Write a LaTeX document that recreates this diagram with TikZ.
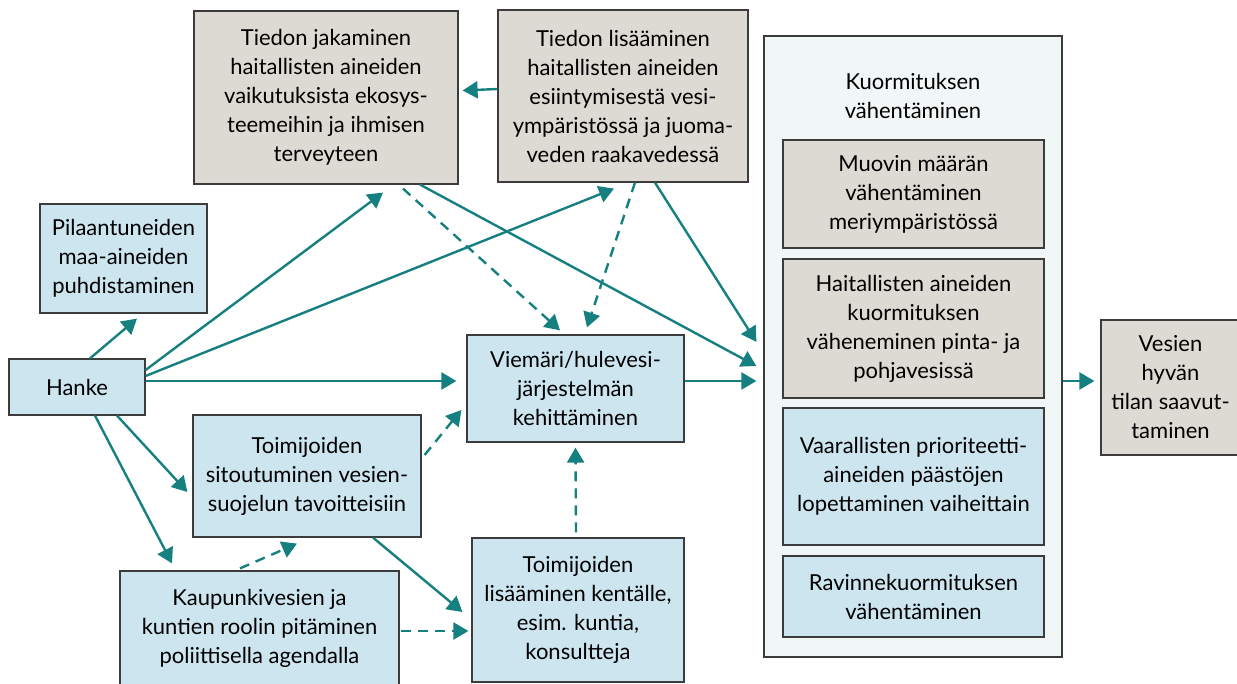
\documentclass[tikz,border=0pt]{standalone}
\usepackage{fontspec}
\setmainfont{Lato}
\usepackage{xcolor}
\usetikzlibrary{arrows.meta, positioning}
\definecolor{flowc}{RGB}{22,128,128}
\definecolor{grayfill}{RGB}{221,217,211}
\definecolor{bluefill}{RGB}{205,229,238}
\definecolor{outerfill}{RGB}{241,246,247}
\definecolor{boxline}{RGB}{60,60,60}
\tikzset{
  box/.style={draw=boxline, line width=0.6pt, align=center, inner sep=2pt, font=\fontsize{11}{14.5}\selectfont},
  graybox/.style={box, fill=grayfill},
  bluebox/.style={box, fill=bluefill},
  flow/.style={draw=flowc, line width=1.2pt, -{Triangle[length=7.5pt,width=8.5pt]}},
  dflow/.style={flow, dash pattern=on 5pt off 3.5pt},
}

\begin{document}
\begin{tikzpicture}[x=0.5pt, y=-0.5pt]
            \useasboundingbox (0,0) rectangle (1237,684);
            % outer group on the right
            \node (load_group) [box, fill=outerfill, minimum width=149pt, minimum height=310.5pt] at (913,346.5) {};
            \node (load_title) [font=\fontsize{11}{14.5}\selectfont, align=center] at (913,96) {Kuormituksen\\ vähentäminen};
            \node (plastic) [graybox, minimum width=130.5pt, minimum height=54pt] at (913.5,194) {Muovin määrän\\ vähentäminen\\ meriympäristössä};
            \node (hazard_load) [graybox, minimum width=130.5pt, minimum height=69.5pt] at (913.5,328.5) {Haitallisten aineiden\\ kuormituksen\\ väheneminen pinta- ja\\ pohjavesissä};
            \node (priority) [bluebox, minimum width=130.5pt, minimum height=68.5pt] at (913.5,476.5) {Vaarallisten prioriteetti-\\ aineiden päästöjen\\ lopettaminen vaiheittain};
            \node (nutrient) [bluebox, minimum width=130.5pt, minimum height=40.5pt] at (913.5,596.5) {Ravinnekuormituksen\\ vähentäminen};
            \node (good_status) [graybox, minimum width=69.5pt, minimum height=67.5pt] at (1170.5,387.5) {Vesien\\ hyvän\\ tilan saavut-\\ taminen};

            % left and middle boxes
            \node (info_share) [graybox, minimum width=132pt, minimum height=86.5pt] at (326,97.5) {Tiedon jakaminen\\ haitallisten aineiden\\ vaikutuksista ekosys-\\ teemeihin ja ihmisen\\ terveyteen};
            \node (info_add) [graybox, minimum width=125pt, minimum height=86pt] at (623,96) {Tiedon lisääminen\\ haitallisten aineiden\\ esiintymisestä vesi-\\ ympäristössä ja juoma-\\ veden raakavedessä};
            \node (soil) [bluebox, minimum width=83.5pt, minimum height=54.5pt] at (123.5,258.5) {Pilaantuneiden\\ maa-aineiden\\ puhdistaminen};
            \node (hanke) [bluebox, minimum width=68pt, minimum height=28pt] at (77,387) {Hanke};
            \node (sewer) [bluebox, minimum width=108.5pt, minimum height=53.5pt] at (575.5,388.5) {Viemäri/hulevesi-\\ järjestelmän\\ kehittäminen};
            \node (commit) [bluebox, minimum width=114pt, minimum height=61pt] at (307,476) {Toimijoiden\\ sitoutuminen vesien-\\ suojelun tavoitteisiin};
            \node (city_role) [bluebox, minimum width=139.5pt, minimum height=57.5pt] at (259.5,628.5) {Kaupunkivesien ja\\ kuntien roolin pitäminen\\ poliittisella agendalla};
            \node (actors) [bluebox, minimum width=106pt, minimum height=72pt] at (578,610) {Toimijoiden\\ lisääminen kentälle,\\ esim. kuntia,\\ konsultteja};

            % connectors
            \draw[flow] ([yshift=3.5pt]info_add.west) -- ([xshift=2pt, yshift=3.5pt]info_share.east);
            \draw[flow] ([xshift=6.5pt]hanke.north) -- ([xshift=6.75pt, yshift=-2.5pt]soil.south);
            \draw[flow] ([yshift=8.5pt]hanke.east) -- ([xshift=28.5pt, yshift=-4pt]info_share.south);
            \draw[flow] ([yshift=5.5pt]hanke.east) -- ([xshift=-4.5pt, yshift=-3pt]info_add.south);
            \draw[flow] ([yshift=3pt]hanke.east) -- ([xshift=-5pt, yshift=3.75pt]sewer.west);
            \draw[flow] ([xshift=20pt]hanke.south) -- ([xshift=-2.5pt, yshift=-8pt]commit.west);
            \draw[flow] ([xshift=9pt]hanke.south) -- ([xshift=-43.75pt, yshift=3.5pt]city_role.north);
            \draw[dflow] ([xshift=38.5pt, yshift=-2pt]info_share.south) -- ([xshift=-7.75pt, yshift=2pt]sewer.north);
            \draw[dflow] ([xshift=6pt]info_add.south) -- ([xshift=5.75pt, yshift=3.5pt]sewer.north);
            \draw[flow] ([xshift=47pt]info_share.south) -- ([xshift=-3.5pt, yshift=-9.75pt]load_group.west);
            \draw[flow] ([xshift=16pt]info_add.south) -- ([xshift=-3.5pt, yshift=2.25pt]load_group.west);
            \draw[flow] ([yshift=3.75pt]sewer.east) -- ([xshift=-3.5pt, yshift=-17.25pt]load_group.west);
            \draw[dflow] ([xshift=1.5pt, yshift=10.5pt]commit.east) -- ([xshift=-2.5pt, yshift=-10.75pt]sewer.west);
            \draw[flow] ([xshift=33pt]commit.south) -- ([xshift=-4.5pt, yshift=-1pt]actors.west);
            \draw[dflow] ([xshift=-9.75pt, yshift=1pt]city_role.north) -- ([xshift=-5pt, yshift=-3pt]commit.south);
            \draw[dflow] ([xshift=0.5pt, yshift=-1.25pt]city_role.east) -- ([xshift=-1.5pt, yshift=-10.5pt]actors.west);
            \draw[dflow] ([xshift=-1pt, yshift=2.5pt]actors.north) -- ([yshift=-2.5pt]sewer.south);
            \draw[flow] ([yshift=-17.25pt]load_group.east) -- ([xshift=-3pt, yshift=3.25pt]good_status.west);
\end{tikzpicture}
\end{document}
